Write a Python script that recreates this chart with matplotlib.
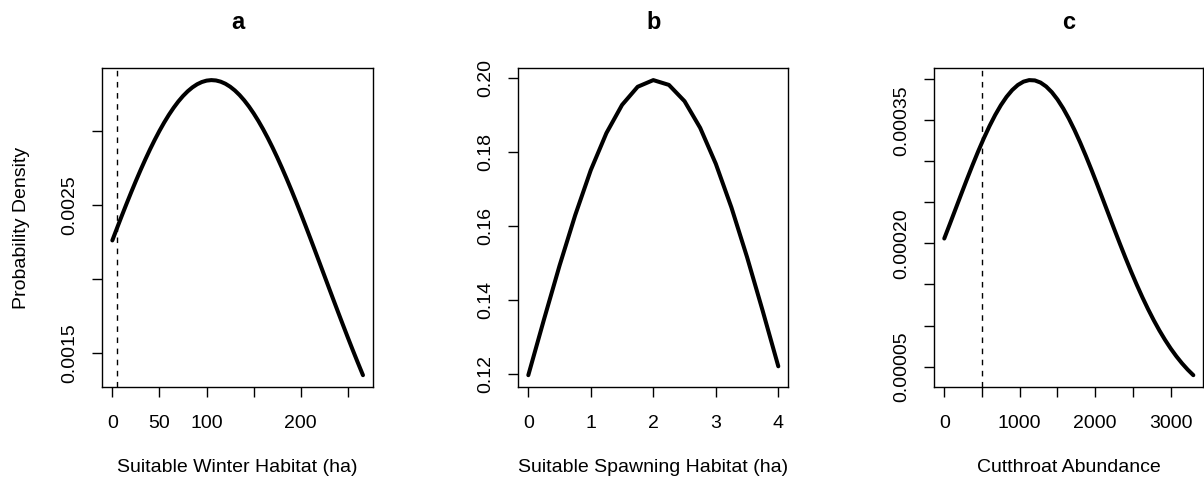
import matplotlib
matplotlib.use("Agg")
import matplotlib.pyplot as plt

plt.rcParams['font.family'] = ['Liberation Sans', 'DejaVu Sans']
plt.rcParams['font.size'] = 14

# Panel a: Suitable Winter Habitat (ha)
winter_x = [0, 5, 10, 15, 20, 25, 30, 35, 40, 45, 50, 55, 60, 65, 70, 75, 80, 85,
            90, 95, 100, 105, 110, 115, 120, 125, 130, 135, 140, 145, 150, 155,
            160, 165, 170, 175, 180, 185, 190, 195, 200, 205, 210, 215, 220, 225,
            230, 235, 240, 245, 250, 255, 260, 266]
winter_y = [0.0022612, 0.0023444, 0.0024264, 0.0025068, 0.0025854, 0.0026618,
            0.0027356, 0.0028065, 0.0028743, 0.0029385, 0.0029989, 0.0030551,
            0.0031070, 0.0031542, 0.0031966, 0.0032338, 0.0032657, 0.0032921,
            0.0033130, 0.0033281, 0.0033375, 0.0033410, 0.0033386, 0.0033304,
            0.0033165, 0.0032967, 0.0032714, 0.0032406, 0.0032044, 0.0031631,
            0.0031168, 0.0030659, 0.0030105, 0.0029509, 0.0028874, 0.0028204,
            0.0027500, 0.0026768, 0.0026009, 0.0025227, 0.0024426, 0.0023609,
            0.0022779, 0.0021940, 0.0021095, 0.0020247, 0.0019399, 0.0018554,
            0.0017715, 0.0016884, 0.0016063, 0.0015256, 0.0014464, 0.0013536]
winter_ref = 5
winter_xticks = [0, 50, 100, 150, 200, 250]
winter_xlabels = ["0", "50", "100", "", "200", ""]
winter_yticks = [0.0015, 0.0020, 0.0025, 0.0030]
winter_ylabels = ["0.0015", "", "0.0025", ""]

# Panel b: Suitable Spawning Habitat (ha)
spawn_x = [0, 0.25, 0.5, 0.75, 1, 1.25, 1.5, 1.75, 2, 2.25, 2.5, 2.75, 3,
           3.25, 3.5, 3.75, 4]
spawn_y = [0.1198, 0.1348, 0.1494, 0.1630, 0.1752, 0.1852, 0.1928, 0.1977,
           0.1995, 0.1982, 0.1938, 0.1866, 0.1769, 0.1651, 0.1517, 0.1372, 0.1222]
spawn_xticks = [0, 1, 2, 3, 4]
spawn_xlabels = ["0", "1", "2", "3", "4"]
spawn_yticks = [0.12, 0.14, 0.16, 0.18, 0.20]
spawn_ylabels = ["0.12", "0.14", "0.16", "0.18", "0.20"]

# Panel c: Cutthroat Abundance
abund_x = [0, 75, 150, 225, 300, 375, 450, 525, 600, 675, 750, 825, 900, 975,
           1050, 1125, 1200, 1275, 1350, 1425, 1500, 1575, 1650, 1725, 1800,
           1875, 1950, 2025, 2100, 2175, 2250, 2325, 2400, 2475, 2550, 2625,
           2700, 2775, 2850, 2925, 3000, 3075, 3150, 3225, 3300]
abund_y = [0.00020594, 0.00022385, 0.00024197, 0.00026008, 0.00027798, 0.00029545,
           0.00031225, 0.00032816, 0.00034294, 0.00035638, 0.00036827, 0.00037842,
           0.00038667, 0.00039288, 0.00039695, 0.00039882, 0.00039844, 0.00039584,
           0.00039104, 0.00038414, 0.00037524, 0.00036449, 0.00035206, 0.00033815,
           0.00032297, 0.00030674, 0.00028969, 0.00027205, 0.00025406, 0.00023592,
           0.00021785, 0.00020004, 0.00018265, 0.00016584, 0.00014973, 0.00013442,
           0.00012001, 0.00010654, 0.00009405, 0.00008256, 0.00007206, 0.00006255,
           0.00005399, 0.00004634, 0.00003955]
abund_ref = 500
abund_xticks = [0, 500, 1000, 1500, 2000, 2500, 3000]
abund_xlabels = ["0", "", "1000", "", "2000", "", "3000"]
abund_yticks = [0.00005, 0.00010, 0.00015, 0.00020, 0.00025, 0.00030, 0.00035, 0.00040]
abund_ylabels = ["0.00005", "", "", "0.00020", "", "", "0.00035", ""]

titles = ["a", "b", "c"]
xlabels = ["Suitable Winter Habitat (ha)", "Suitable Spawning Habitat (ha)",
           "Cutthroat Abundance"]

W, H = 1204, 480
fig = plt.figure(figsize=(W / 100, H / 100), dpi=100)

boxes = [(102.3, 373.0), (518.3, 788.3), (934.3, 1203.3)]
top_px, bot_px = 68.3, 387.0

panels = [
    (winter_x, winter_y, winter_ref, winter_xticks, winter_xlabels, winter_yticks, winter_ylabels),
    (spawn_x, spawn_y, None, spawn_xticks, spawn_xlabels, spawn_yticks, spawn_ylabels),
    (abund_x, abund_y, abund_ref, abund_xticks, abund_xlabels, abund_yticks, abund_ylabels),
]

for i, ((l, r), (xs, ys, ref, xt, xtl, yt, ytl)) in enumerate(zip(boxes, panels)):
    ax = fig.add_axes([l / W, 1 - bot_px / H, (r - l) / W, (bot_px - top_px) / H])
    ax.plot(xs, ys, color="black", lw=2.9, solid_capstyle="round", solid_joinstyle="round")
    ax.margins(x=0.04, y=0.04)
    if ref is not None:
        ax.axvline(ref, color="black", lw=1.0, linestyle=(0, (4, 4)))
    ax.set_xticks(xt, xtl)
    ax.set_yticks(yt, ytl)
    for lab in ax.get_yticklabels():
        lab.set_rotation(90)
        lab.set_verticalalignment("center")
    ax.tick_params(axis="both", direction="out", length=7.5, width=1.0, color="black")
    ax.tick_params(axis="x", pad=12.5)
    ax.tick_params(axis="y", pad=10)
    for sp in ax.spines.values():
        sp.set_linewidth(1.0)
        sp.set_color("black")
    ax.set_xlabel(xlabels[i], va="center")
    ax.xaxis.set_label_coords(0.5, (bot_px - 467) / (bot_px - top_px))
    ax.set_title(titles[i], fontweight="bold", fontsize=17, pad=0,
                 y=(bot_px - 29.3) / (bot_px - top_px), va="baseline")
    if i == 0:
        ax.set_ylabel("Probability Density", va="center")
        ax.yaxis.set_label_coords((21.5 - l) / (r - l), 0.5)

fig.savefig("out.png", dpi=100)
